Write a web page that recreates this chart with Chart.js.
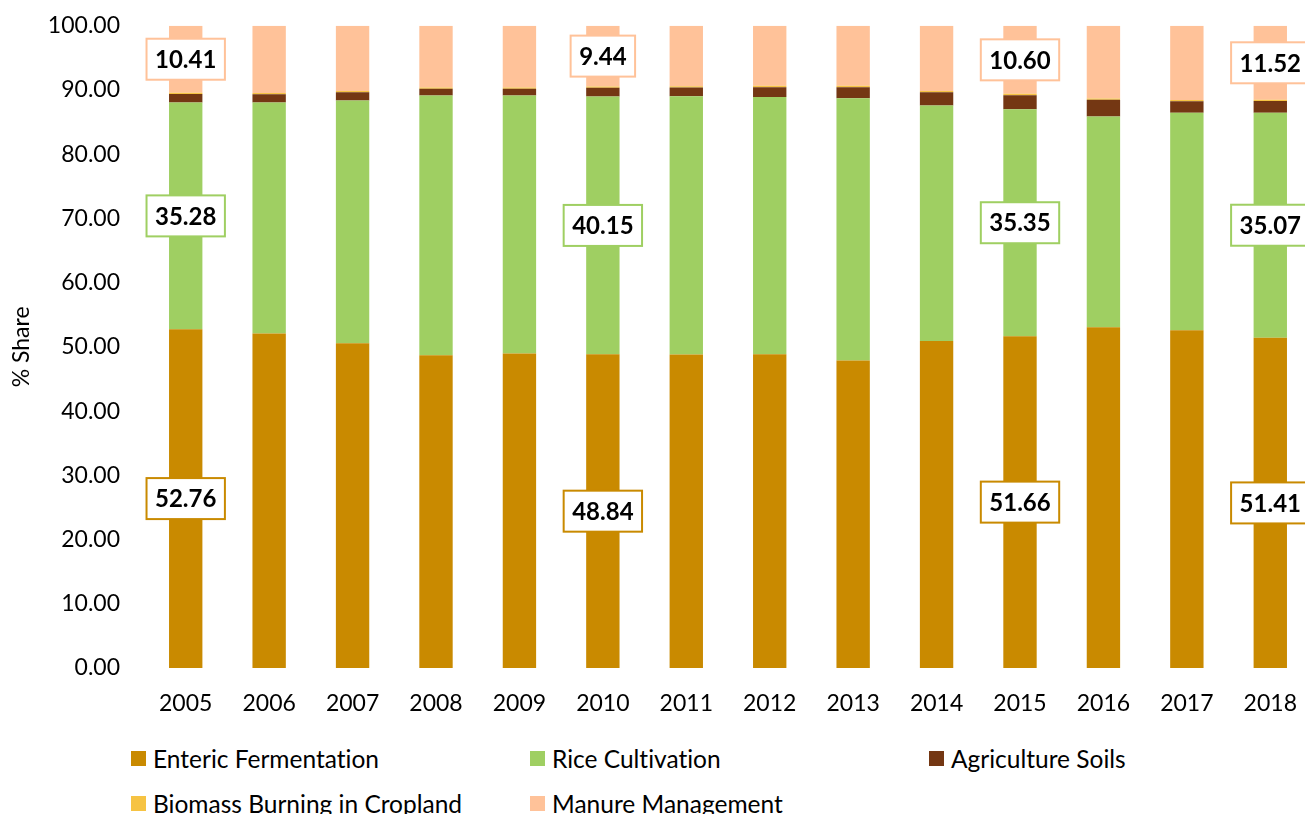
<!DOCTYPE html>
<html>
<head>
<meta charset="utf-8">
<script src="https://cdn.jsdelivr.net/npm/chart.js@4"></script>
<style>
  html, body { margin: 0; padding: 0; background: #fff; overflow: hidden; }
  #wrap { position: relative; width: 1312px; height: 814px; }
  #chart { position: absolute; left: 0; top: -4px; }
  #legend {
    position: absolute; left: 131px; top: 744px;
    display: grid; grid-template-columns: 399px 399px 400px; row-gap: 17px;
    font-family: Lato, sans-serif; font-size: 24.5px; color: #000;
    font-variant-ligatures: none;
  }
  .item { display: flex; align-items: center; height: 28px; white-space: nowrap; }
  .item i { display: inline-block; width: 15px; height: 15px; margin-right: 7px; }
</style>
</head>
<body>
<div id="wrap">
  <canvas id="chart" width="1312" height="734"></canvas>
  <div id="legend"></div>
</div>
<script>
// years and % share of each source
const years = ['2005', '2006', '2007', '2008', '2009', '2010', '2011', '2012', '2013', '2014', '2015', '2016', '2017', '2018'];
const enteric = [52.76, 52.07, 50.57, 48.70, 48.96, 48.84, 48.80, 48.86, 47.90, 50.90, 51.66, 53.07, 52.60, 51.41];
const rice    = [35.28, 36.00, 37.80, 40.45, 40.20, 40.15, 40.24, 40.04, 40.80, 36.70, 35.35, 32.80, 33.85, 35.07];
const soils   = [1.35, 1.26, 1.27, 1.04, 1.04, 1.37, 1.36, 1.55, 1.75, 2.05, 2.19, 2.60, 1.80, 1.80];
const biomass = [0.20, 0.20, 0.20, 0.20, 0.20, 0.20, 0.20, 0.20, 0.20, 0.20, 0.20, 0.20, 0.20, 0.20];
const manure  = [10.41, 10.47, 10.16, 9.61, 9.60, 9.44, 9.40, 9.35, 9.35, 10.15, 10.60, 11.33, 11.55, 11.52];
const yTicks = [0, 10, 20, 30, 40, 50, 60, 70, 80, 90, 100];

// years that get value boxes, and which series are boxed
const labelledYears = ['2005', '2010', '2015', '2018'];
const labelledSeries = [0, 1, 4];

const series = [
  { label: 'Enteric Fermentation', data: enteric, color: '#C98A00' },
  { label: 'Rice Cultivation', data: rice, color: '#9FCF62' },
  { label: 'Agriculture Soils', data: soils, color: '#743713' },
  { label: 'Biomass Burning in Cropland', data: biomass, color: '#F6C343' },
  { label: 'Manure Management', data: manure, color: '#FFC299' }
];

const valueBoxes = {
  id: 'valueBoxes',
  afterDatasetsDraw(chart) {
    const ctx = chart.ctx;
    ctx.save();
    ctx.font = 'bold 24px Lato, sans-serif';
    ctx.textAlign = 'center';
    ctx.textBaseline = 'middle';
    labelledSeries.forEach(di => {
      const meta = chart.getDatasetMeta(di);
      const ds = chart.data.datasets[di];
      labelledYears.forEach(yr => {
        const i = years.indexOf(yr);
        const bar = meta.data[i];
        const txt = ds.data[i].toFixed(2);
        const cx = bar.x;
        const cy = (bar.y + bar.base) / 2;
        const w = ctx.measureText(txt).width + 17;
        const h = 41;
        ctx.fillStyle = '#fff';
        ctx.fillRect(cx - w / 2, cy - h / 2, w, h);
        ctx.strokeStyle = ds.backgroundColor;
        ctx.lineWidth = 2;
        ctx.strokeRect(cx - w / 2, cy - h / 2, w, h);
        ctx.fillStyle = '#000';
        ctx.fillText(txt, cx, cy + 1);
      });
    });
    ctx.restore();
  }
};

const ctx = document.getElementById('chart').getContext('2d');
new Chart(ctx, {
  type: 'bar',
  data: {
    labels: years,
    datasets: series.map(s => ({
      label: s.label,
      data: s.data,
      backgroundColor: s.color,
      borderWidth: 0,
      categoryPercentage: 1,
      barPercentage: 0.4
    }))
  },
  options: {
    responsive: false,
    animation: false,
    layout: { padding: { top: 11, right: 0, left: 0, bottom: 0 } },
    plugins: {
      legend: { display: false },
      tooltip: { enabled: false }
    },
    scales: {
      x: {
        stacked: true,
        grid: { display: false },
        border: { display: false },
        ticks: { color: '#000', padding: 14, font: { family: 'Lato', size: 23 } },
        afterFit: axis => { axis.height = 62; }
      },
      y: {
        stacked: true,
        min: 0,
        max: 100,
        grid: { display: false },
        border: { display: false },
        afterBuildTicks: axis => { axis.ticks = yTicks.map(v => ({ value: v })); },
        ticks: {
          color: '#000',
          padding: 16,
          font: { family: 'Lato', size: 23 },
          callback: v => Number(v).toFixed(2)
        },
        title: {
          display: true,
          text: '% Share',
          color: '#000',
          font: { family: 'Lato', size: 23 },
          padding: { top: 8, bottom: 0 }
        },
        afterFit: axis => { axis.width = 144; }
      }
    }
  },
  plugins: [valueBoxes]
});

// legend laid out in three columns under the plot
const legend = document.getElementById('legend');
series.forEach(s => {
  const el = document.createElement('div');
  el.className = 'item';
  el.innerHTML = '<i style="background:' + s.color + '"></i><span>' + s.label + '</span>';
  legend.appendChild(el);
});
</script>
</body>
</html>
